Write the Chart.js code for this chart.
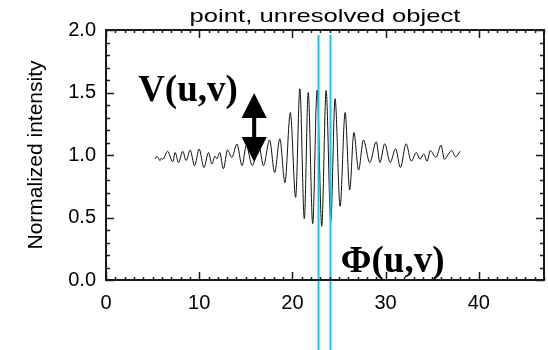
<!DOCTYPE html>
<html>
<head>
<meta charset="utf-8">
<script src="https://cdn.jsdelivr.net/npm/chart.js@4.4.0/dist/chart.umd.min.js"></script>
<style>
  html, body { margin: 0; padding: 0; background: #fff; }
  #wrap { width: 548px; height: 350px; }
</style>
</head>
<body>
<div id="wrap"><canvas id="fringe"></canvas></div>
<script>
// fringe trace: scan position and normalized intensity (peaks/troughs)
const scanPos = [
  5.27, 5.45, 5.63, 5.8, 5.95, 6.1, 6.6, 7.17, 7.42, 7.78, 8.24, 8.6, 9.03, 9.5,
  10.0, 10.5, 11.0, 11.36, 11.7, 11.9, 12.2, 12.6, 13.04, 13.5, 14.05, 14.6, 15.05,
  15.7, 16.4, 16.9, 17.55, 18.1, 18.65, 19.2, 19.78, 20.35, 20.8, 21.28, 21.7,
  22.18, 22.65, 23.15, 23.62, 24.12, 24.58, 25.12, 25.66, 26.15, 26.6, 27.1, 27.63,
  28.3, 29.0, 29.4, 29.9, 30.5, 31.07, 31.6, 32.2, 32.76, 33.3, 33.7, 34.1, 34.45,
  34.8, 35.4, 35.96, 36.3, 37.1, 37.5, 38.0
];
const intensity = [
  0.968, 0.99, 0.975, 0.955, 0.975, 0.965, 1.03, 0.946, 1.02, 0.94, 1.03, 0.955, 1.04, 0.915,
  1.048, 0.90, 1.02, 0.928, 0.99, 0.97, 1.02, 0.89, 1.04, 0.98, 1.088, 0.915, 1.075,
  0.915, 1.075, 0.915, 1.12, 0.86, 1.13, 0.78, 1.34, 0.66, 1.53, 0.49, 1.50,
  0.45, 1.52, 0.43, 1.515, 0.47, 1.45, 0.59, 1.34, 0.72, 1.18, 0.88, 1.12,
  0.94, 1.106, 0.94, 1.09, 0.94, 1.05, 0.90, 1.09, 0.95, 1.02, 0.966, 1.008, 0.95,
  1.036, 0.98, 1.078, 0.966, 1.036, 0.986, 1.03
];

const xTicks = [0, 10, 20, 30, 40];
const yTicks = [0.0, 0.5, 1.0, 1.5, 2.0];
const xRange = [0, 47];
const yRange = [0, 2];
const phaseLines = [22.8, 24.0];   // the two cyan markers
const phaseLineTop = 1.96;

const titleText = 'point, unresolved object';
const yTitle = 'Normalized intensity';
const visLabel = 'V(u,v)';
const phaseLabel = 'Φ(u,v)';
// annotation anchors in data units
const visLabelAt = [3.45, 1.43];
const phaseLabelAt = [25.2, 0.064];
const arrowX = 15.9;
const arrowYs = [1.496, 1.296, 1.144, 0.944]; // top tip, head base, head base, bottom tip
const arrowHalfW = 1.35;

const points = scanPos.map((x, i) => ({ x: x, y: intensity[i] }));

// box, inward ticks, cyan lines and labels
const extras = {
  id: 'extras',
  afterDatasetsDraw(chart) {
    const { ctx, scales: { x, y } } = chart;
    ctx.save();
    ctx.strokeStyle = '#19c6f0';
    ctx.lineWidth = 2;
    phaseLines.forEach(v => {
      const px = Math.round(x.getPixelForValue(v)) + 0.5;
      ctx.beginPath();
      ctx.moveTo(px, y.getPixelForValue(phaseLineTop));
      ctx.lineTo(px, chart.height);
      ctx.stroke();
    });
    ctx.restore();
  },
  afterDraw(chart) {
    const { ctx, scales: { x, y }, chartArea: a } = chart;
    ctx.save();
    ctx.strokeStyle = '#1a1a1a';
    ctx.lineWidth = 2;
    ctx.strokeRect(a.left, a.top, a.right - a.left, a.bottom - a.top);

    ctx.lineWidth = 1.5;
    ctx.beginPath();
    for (let v = 0; v <= xRange[1] + 1e-9; v += 1) {
      const px = Math.round(x.getPixelForValue(v)) + 0.5;
      const len = v % 10 === 0 ? 8 : 3;
      ctx.moveTo(px, a.bottom); ctx.lineTo(px, a.bottom - len);
      ctx.moveTo(px, a.top); ctx.lineTo(px, a.top + len);
    }
    for (let i = 0; i <= 20; i++) {
      const py = Math.round(y.getPixelForValue(i / 10)) + 0.5;
      const len = i % 5 === 0 ? 8 : 4;
      ctx.moveTo(a.left, py); ctx.lineTo(a.left + len, py);
      ctx.moveTo(a.right, py); ctx.lineTo(a.right - len, py);
    }
    ctx.stroke();

    // title, wide sans like the original
    ctx.fillStyle = '#000';
    ctx.save();
    ctx.translate((a.left + a.right) / 2, 22);
    ctx.scale(1.35, 1);
    ctx.font = '19px "Liberation Sans", Arial, sans-serif';
    ctx.textAlign = 'center';
    ctx.textBaseline = 'alphabetic';
    ctx.fillText(titleText, 0, 0);
    ctx.restore();

    // bold serif annotations
    ctx.font = 'bold 37px "Liberation Serif", "Times New Roman", serif';
    ctx.textAlign = 'left';
    ctx.textBaseline = 'alphabetic';
    ctx.fillText(visLabel, x.getPixelForValue(visLabelAt[0]), y.getPixelForValue(visLabelAt[1]));
    ctx.fillText(phaseLabel, x.getPixelForValue(phaseLabelAt[0]), y.getPixelForValue(phaseLabelAt[1]));

    // double headed arrow
    const ax = x.getPixelForValue(arrowX);
    const hw = x.getPixelForValue(arrowX + arrowHalfW) - ax;
    const [t0, t1, t2, t3] = arrowYs.map(v => y.getPixelForValue(v));
    ctx.beginPath();
    ctx.moveTo(ax, t0); ctx.lineTo(ax + hw, t1); ctx.lineTo(ax - hw, t1); ctx.closePath();
    ctx.moveTo(ax, t3); ctx.lineTo(ax + hw, t2); ctx.lineTo(ax - hw, t2); ctx.closePath();
    ctx.fill();
    ctx.fillRect(ax - 2, t1, 4, t2 - t1);
    ctx.restore();
  }
};

const tickFont = { family: '"Liberation Sans", Arial, sans-serif', size: 20 };

const config = {
  type: 'line',
  data: {
    datasets: [{
      data: points,
      borderColor: '#111',
      borderWidth: 1,
      pointRadius: 0,
      cubicInterpolationMode: 'monotone',
      fill: false
    }]
  },
  options: {
    responsive: true,
    maintainAspectRatio: false,
    animation: false,
    layout: { padding: { top: 30, right: 4, left: 0, bottom: 0 } },
    plugins: {
      legend: { display: false },
      title: { display: false },
      tooltip: { enabled: false }
    },
    scales: {
      x: {
        type: 'linear',
        min: xRange[0],
        max: xRange[1],
        grid: { display: false, drawTicks: false },
        border: { display: false },
        afterBuildTicks: s => { s.ticks = xTicks.map(v => ({ value: v })); },
        afterFit: s => { s.height = 70; },
        ticks: { color: '#000', font: tickFont, padding: 11, maxRotation: 0, callback: v => String(v) }
      },
      y: {
        type: 'linear',
        min: yRange[0],
        max: yRange[1],
        grid: { display: false, drawTicks: false },
        border: { display: false },
        afterBuildTicks: s => { s.ticks = yTicks.map(v => ({ value: v })); },
        afterFit: s => { s.width = 106; },
        ticks: { color: '#000', font: tickFont, padding: 10, callback: v => v.toFixed(1) },
        title: {
          display: true,
          text: yTitle,
          color: '#000',
          font: { family: '"Liberation Sans", Arial, sans-serif', size: 21 },
          padding: { top: 24, bottom: 0 }
        }
      }
    }
  },
  plugins: [extras]
};

const fringeChart = new Chart(document.getElementById('fringe').getContext('2d'), config);
</script>
</body>
</html>
